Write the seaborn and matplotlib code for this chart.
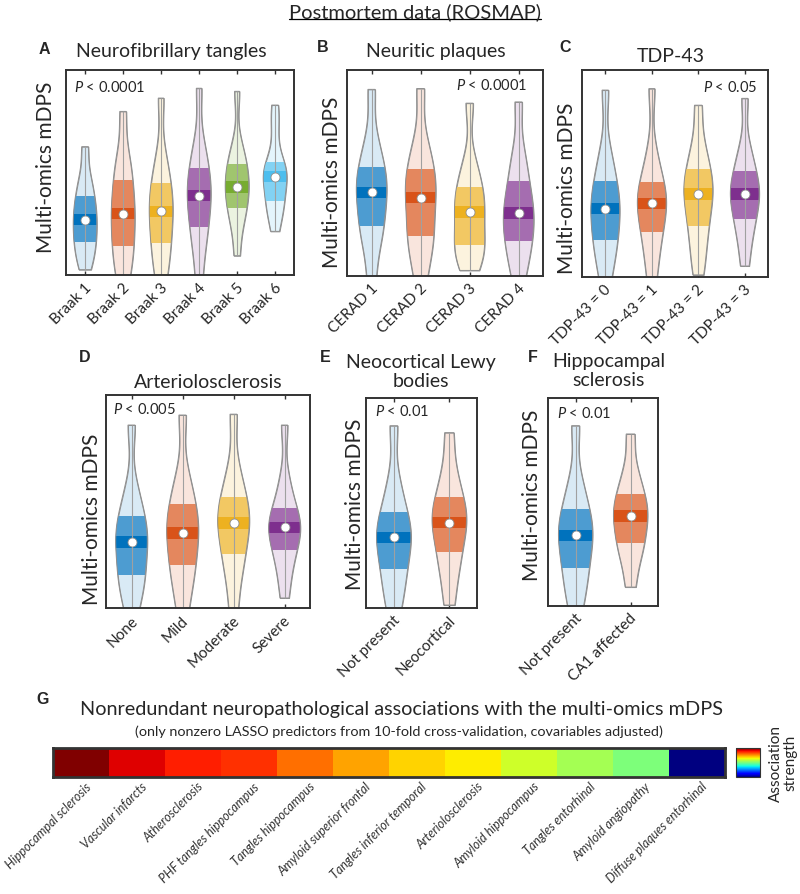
import numpy as np
import pandas as pd
import matplotlib
matplotlib.use("Agg")
import matplotlib.pyplot as plt
import seaborn as sns
from matplotlib.patches import PathPatch, Rectangle
from matplotlib.lines import Line2D
from matplotlib.colors import to_rgb
from matplotlib.transforms import ScaledTranslation

sns.set_theme(style="white")
plt.rcParams["font.family"] = ["Lato", "DejaVu Sans"]
plt.rcParams["mathtext.fontset"] = "custom"
plt.rcParams["mathtext.rm"] = "Lato"
plt.rcParams["mathtext.it"] = "Lato:italic"

# ---------------- data (mDPS values, arbitrary units, deciles) ----------------
braak_labels = ["Braak 1", "Braak 2", "Braak 3", "Braak 4", "Braak 5", "Braak 6"]
braak_values = [
    [2.6, 9, 14, 18, 23, 27, 31, 36, 41, 48, 62.6],
    [-6, 5, 11, 17, 25, 30, 35, 43, 50, 58, 79.8],
    [-5, 6, 12, 19, 26, 31, 36, 42, 48, 58, 86.3],
    [-4, 12, 20, 27, 34, 38.7, 43, 49, 55, 64, 91.1],
    [9.4, 24, 30, 35, 40, 43, 47, 52, 56, 63, 89.6],
    [21.3, 30, 34, 38, 44, 48, 50, 52, 58, 72, 82.9],
]
cerad_labels = ["CERAD 1", "CERAD 2", "CERAD 3", "CERAD 4"]
cerad_values = [
    [-3, 14, 22, 27, 35, 40.6, 45, 50, 56, 66, 90.6],
    [-3, 10, 17, 22, 31, 38, 43, 49, 55, 65, 91],
    [2.7, 9, 13, 17, 24, 31, 35, 40, 46, 55, 83.9],
    [-3, 8, 14, 20, 26, 30.5, 35, 42, 50, 60, 84.5],
]
tdp_labels = ["TDP-43 = 0", "TDP-43 = 1", "TDP-43 = 2", "TDP-43 = 3"]
tdp_values = [
    [-3, 9, 15, 21, 28, 33, 37, 43, 50, 60, 90.3],
    [-3, 10, 18, 25, 31, 35.6, 39, 43, 49, 60, 91],
    [1, 12, 21, 28, 35, 40, 44, 49, 55, 64, 83],
    [5.3, 18, 25, 31, 37, 40, 43, 48, 54, 62, 86.3],
]
arterio_labels = ["None", "Mild", "Moderate", "Severe"]
arterio_values = [
    [-3, 8, 13, 18, 26, 31, 35, 40, 46, 56, 85.9],
    [-3, 10, 17, 23, 31, 35.4, 40, 46, 52, 62, 90.6],
    [-2, 14, 22, 29, 36, 40, 44, 49, 55, 65, 91],
    [4.7, 17, 24, 30, 35, 37.8, 40, 44, 50, 60, 85.9],
]
lewy_labels = ["Not present", "Neocortical"]
lewy_values = [
    [-3, 8, 15, 22, 29, 33.6, 37, 42, 49, 60, 86.8],
    [1.4, 15, 23, 30, 37, 40.7, 45, 50, 56, 66, 83.5],
]
hs_labels = ["Not present", "CA1 affected"]
hs_values = [
    [-3, 8, 15, 22, 29, 33.9, 38, 43, 50, 60, 86.7],
    [9.1, 22, 28, 33, 39, 43.2, 47, 51, 57, 65, 82.7],
]

assoc_labels = ["Hippocampal sclerosis", "Vascular infarcts", "Atherosclerosis",
                "PHF tangles hippocampus", "Tangles hippocampus", "Amyloid superior frontal",
                "Tangles inferior temporal", "Arteriolosclerosis", "Amyloid hippocampus",
                "Tangles entorhinal", "Amyloid angiopathy", "Diffuse plaques entorhinal"]
assoc_strength = [1.0, 0.915, 0.876, 0.859, 0.791, 0.735, 0.685, 0.66, 0.60, 0.55, 0.50, 0.0]

# ---------------- styling ----------------
W, H = 800, 895
mcol = ["#0072BD", "#D95319", "#EDB120", "#7E2F8E", "#77AC30", "#4DBEEE"]
EDGE = "#8f8f8f"
FRAME = "#333333"


def blend(c, a):
    return tuple(1 - a * (1 - x) for x in to_rgb(c))


fig = plt.figure(figsize=(W / 100, H / 100), dpi=100)


def px_axes(x0, y0, x1, y1):
    return fig.add_axes([x0 / W, 1 - y1 / H, (x1 - x0) / W, (y1 - y0) / H])


def ftext(x, y, s, **kw):
    kw.setdefault("ha", "center")
    kw.setdefault("va", "center")
    return fig.text(x / W, 1 - y / H, s, **kw)


def shift_labels(ax, dx_px):
    off = ScaledTranslation(dx_px / 100, 0, fig.dpi_scale_trans)
    for lab in ax.get_xticklabels():
        lab.set_transform(lab.get_transform() + off)


def violin_panel(ax, labels, values):
    n = len(labels)
    df = pd.DataFrame({"group": np.repeat(labels, [len(v) for v in values]),
                       "value": np.concatenate([np.asarray(v, float) for v in values])})
    light = [blend(mcol[i], 0.15) for i in range(n)]
    before = len(ax.collections)
    sns.violinplot(data=df, x="group", y="value", hue="group", order=labels,
                   hue_order=labels, palette=light, cut=0, inner=None,
                   density_norm="width", width=0.62, linewidth=0.7, linecolor=EDGE,
                   bw_adjust=0.65, saturation=1, legend=False, ax=ax)
    colls = ax.collections[before:]
    for i, coll in enumerate(colls):
        path = coll.get_paths()[0]
        vals = np.asarray(values[i], float)
        q1, med, q3 = np.percentile(vals, [25, 50, 75])
        band = 2.8
        for lo, hi, a, z in [(q1, q3, 0.7, 2.1), (med - band, med + band, 1.0, 2.2)]:
            p = PathPatch(path, facecolor=blend(mcol[i], a), edgecolor="none",
                          transform=ax.transData, zorder=z)
            ax.add_patch(p)
            p.set_clip_path(Rectangle((i - 0.5, lo), 1, hi - lo, transform=ax.transData))
        ax.add_patch(PathPatch(path, facecolor="none", edgecolor=EDGE, lw=0.7,
                               transform=ax.transData, zorder=2.3))
        ax.vlines(i, vals.min(), vals.max(), color="#a0a0a0", lw=0.8, zorder=2.4)
        ax.scatter([i], [med], s=42, c="white", edgecolors=EDGE, linewidths=0.6, zorder=3)
    ax.set_xlim(-0.5, n - 0.5)
    ax.set_ylim(0, 100)
    ax.set_xlabel("")
    ax.set_ylabel("")
    ax.set_yticks([])
    ax.set_xticks(range(n))
    ax.set_xticklabels(labels, rotation=45, ha="right", va="center",
                       rotation_mode="anchor", fontsize=11)
    ax.tick_params(axis="x", direction="in", top=True, bottom=True, length=3,
                   width=1, color=FRAME, pad=7)
    shift_labels(ax, 4)
    for s in ax.spines.values():
        s.set_visible(True)
        s.set_linewidth(1.4)
        s.set_color(FRAME)


panels = [
    ((66, 71, 294, 276), braak_labels, braak_values, "Neurofibrillary tangles", (171, 52), "A", (44.5, 49), (46, 167.5), "$\\it{P}$ < 0.0001", (74, 88), "left"),
    ((347, 71, 543, 277), cerad_labels, cerad_values, "Neuritic plaques", (436, 52), "B", (323, 47.5), (332, 182), "$\\it{P}$ < 0.0001", (527, 85), "right"),
    ((582, 71, 768, 278), tdp_labels, tdp_values, "TDP-43", (671, 56), "C", (565, 47), (567, 188.5), "$\\it{P}$ < 0.05", (757, 87), "right"),
    ((106, 396, 310, 609), arterio_labels, arterio_values, "Arteriolosclerosis", (208, 382), "D", (85, 357), (92.5, 519.5), "$\\it{P}$ < 0.005", (113, 410), "left"),
    ((366, 399, 477, 609), lewy_labels, lewy_values, "Neocortical Lewy\nbodies", (421, 372), "E", (325, 357.5), (355, 504.5), "$\\it{P}$ < 0.01", (375, 412), "left"),
    ((548, 399, 658, 607), hs_labels, hs_values, "Hippocampal\nsclerosis", (609, 371), "F", (533, 357), (531.5, 495), "$\\it{P}$ < 0.01", (557, 414), "left"),
]

for box, labels, values, title, tpos, letter, lpos, ypos, ptxt, ppos, pha in panels:
    ax = px_axes(*box)
    violin_panel(ax, labels, values)
    ftext(*tpos, title, fontsize=14, linespacing=1.15)
    ftext(*lpos, letter, fontsize=11.5, fontweight="bold", family=["Liberation Sans", "DejaVu Sans"])
    ftext(*ypos, "Multi-omics mDPS", fontsize=15, rotation=90)
    ftext(*ppos, ptxt, fontsize=10.5, ha=pha)

# ---------------- suptitle with underline ----------------
st = ftext(415, 12, "Postmortem data (ROSMAP)", fontsize=14.5)

# ---------------- panel G heatmap ----------------
ftext(43, 700, "G", fontsize=11.5, fontweight="bold", family=["Liberation Sans", "DejaVu Sans"])
ftext(401.5, 710, "Nonredundant neuropathological associations with the multi-omics mDPS", fontsize=14.3)
ftext(399, 732, "(only nonzero LASSO predictors from 10-fold cross-validation, covariables adjusted)", fontsize=10.4)

axg = px_axes(53, 749, 725, 778)
cax = px_axes(736, 749, 760, 778)
hm = pd.DataFrame([assoc_strength], columns=assoc_labels)
sns.heatmap(hm, cmap="jet", vmin=0, vmax=1, ax=axg, cbar_ax=cax, cbar_kws={"ticks": []})
axg.set_yticks([])
axg.set_xticks(np.arange(len(assoc_labels)) + 0.5)
axg.set_xticklabels(assoc_labels, rotation=45, ha="right", va="center",
                    rotation_mode="anchor", fontsize=9, style="italic", color="#333333")
axg.tick_params(axis="x", direction="in", top=True, bottom=True, length=5, width=1.2,
                color=FRAME, pad=5)
shift_labels(axg, 8)
for s in axg.spines.values():
    s.set_visible(True)
    s.set_linewidth(2)
    s.set_color(FRAME)
cbar = axg.collections[0].colorbar
cbar.outline.set_linewidth(0.8)
cbar.outline.set_edgecolor(FRAME)
cax.tick_params(length=0)
cax.set_yticks([])
ftext(783, 763, "Association\nstrength", fontsize=11, rotation=90, linespacing=1.05)

fig.canvas.draw()
bb = st.get_window_extent().transformed(fig.transFigure.inverted())
fig.add_artist(Line2D([bb.x0, bb.x1], [bb.y0 + 0.001, bb.y0 + 0.001],
                      transform=fig.transFigure, color="black", lw=0.9))

fig.savefig("out.png", dpi=100)
